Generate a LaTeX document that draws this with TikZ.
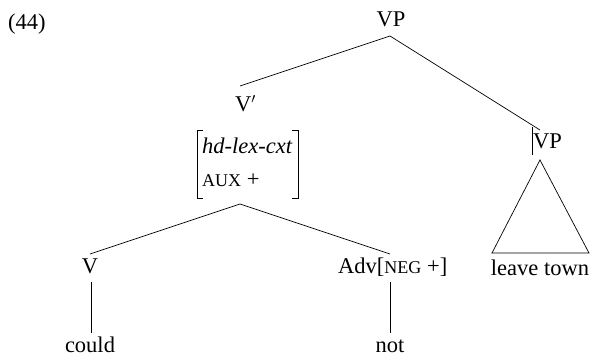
\documentclass[tikz,border=0pt]{standalone}
\usepackage{fontspec}
\setmainfont{Liberation Serif}
\begin{document}
\begin{tikzpicture}[x=1pt,y=-1pt,
  lbl/.style={inner sep=0pt,anchor=base,font=\fontsize{22.5}{27}\selectfont},
  lbll/.style={lbl,anchor=base west},
  br/.style={line width=0.7pt},
  edge/.style={line width=0.7pt}]
\newcommand{\smc}[1]{{\fontsize{18}{21}\selectfont #1}}
\useasboundingbox (0,0) rectangle (590,356);
% labels
\node[lbll] (num) at (8,29) {(44)};
\node[lbl] (vp) at (391,27) {VP};
\node[lbll] (vbar) at (235,111) {V$'$};
\node[lbll] (vp2) at (533,148) {VP};
\node[lbll] (hd) at (202,153) {\textit{hd-lex-cxt}};
\node[lbll] (aux) at (202,186) {\smc{AUX} +};
\node[lbl] (v) at (90,273) {V};
\node[lbll] (adv) at (338,273) {Adv[\smc{NEG} +]};
\node[lbl] (could) at (90,352) {could};
\node[lbl] (not) at (390,352) {not};
\node[lbl] (lt) at (540,275) {leave town};
% coordinates
\coordinate (vpb) at (390,36);
\coordinate (vbart) at (240,86);
\coordinate (vp2t) at (540,130);
\coordinate (avmb) at (240,204);
\coordinate (vt) at (90,254);
\coordinate (advt) at (390,254);
\coordinate (vb) at (91,282);
\coordinate (couldt) at (91,333);
\coordinate (advb) at (390,282);
\coordinate (nott) at (390,333);
\coordinate (bar1) at (532,127);
\coordinate (bar2) at (532,155);
\coordinate (ta) at (540,160);
\coordinate (tl) at (492,253);
\coordinate (tr) at (589,253);
% brackets
\draw[br] (203,130) -- (197,130) -- (197,198) -- (203,198);
\draw[br] (292,130) -- (298,130) -- (298,198) -- (292,198);
% edges
\draw[edge] (vpb) -- (vbart);
\draw[edge] (vpb) -- (vp2t);
\draw[edge] (bar1) -- (bar2);
\draw[edge] (avmb) -- (vt);
\draw[edge] (avmb) -- (advt);
\draw[edge] (vb) -- (couldt);
\draw[edge] (advb) -- (nott);
\draw[edge] (ta) -- (tl) -- (tr) -- cycle;
\end{tikzpicture}
\end{document}
